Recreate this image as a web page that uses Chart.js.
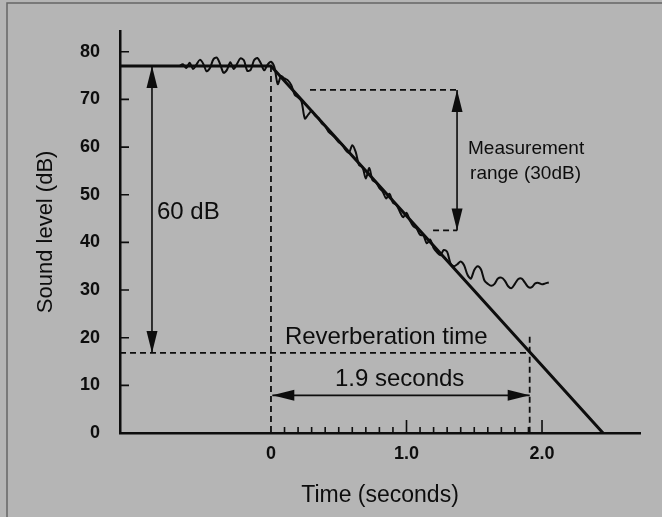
<!DOCTYPE html>
<html>
<head>
<meta charset="utf-8">
<script src="https://cdn.jsdelivr.net/npm/chart.js@4.4.1/dist/chart.umd.min.js"></script>
<style>
  html, body { margin: 0; padding: 0; background: #b5b5b5; }
  #wrap { width: 662px; height: 517px; }
</style>
</head>
<body>
<div id="wrap"><canvas id="decayChart" width="662" height="517"></canvas></div>
<script>
'use strict';

// measured sound level after the source stops (seconds, dB)
const traceTimes = [
  -0.675, -0.65, -0.625, -0.6, -0.575, -0.55, -0.525, -0.5, -0.475, -0.45,
  -0.425, -0.4, -0.375, -0.35, -0.325, -0.3, -0.275, -0.25, -0.225, -0.2,
  -0.175, -0.15, -0.125, -0.1, -0.075, -0.05, -0.025, 0,
  0.025, 0.05, 0.075, 0.1, 0.125, 0.15, 0.175, 0.2, 0.225, 0.25,
  0.275, 0.3, 0.325, 0.35, 0.375, 0.4, 0.425, 0.45, 0.475, 0.5,
  0.525, 0.55, 0.575, 0.6, 0.625, 0.65, 0.675, 0.7, 0.725, 0.75,
  0.775, 0.8, 0.825, 0.85, 0.875, 0.9, 0.925, 0.95, 0.975, 1.0,
  1.025, 1.05, 1.075, 1.1, 1.125, 1.15, 1.175, 1.2, 1.225, 1.25,
  1.275, 1.3, 1.325, 1.35, 1.375, 1.4, 1.425, 1.45, 1.475, 1.5,
  1.525, 1.55, 1.575, 1.6, 1.625, 1.65, 1.675, 1.7, 1.725, 1.75,
  1.775, 1.8, 1.825, 1.85, 1.875, 1.9, 1.925, 1.95, 1.975, 2.0,
  2.025, 2.05
];
const traceLevels = [
  77.0, 77.4, 76.6, 77.7, 76.4, 77.3, 78.3, 77.5, 75.9, 76.6,
  78.4, 78.8, 77.4, 75.6, 76.2, 77.8, 76.4, 77.5, 78.6, 78.2,
  76.0, 76.2, 78.2, 78.7, 77.6, 76.1, 77.3, 77.9,
  76.8, 73.2, 74.9, 74.4, 74.0, 73.0, 71.0, 70.4, 69.6, 66.0,
  66.8, 67.6, 66.6, 66.1, 65.0, 64.4, 63.2, 62.6, 61.9, 61.0,
  60.6, 59.4, 58.8, 60.4, 59.0, 56.2, 55.8, 53.4, 55.6, 53.0,
  52.6, 51.4, 50.6, 49.2, 50.2, 48.3, 47.9, 46.5, 45.3, 46.2,
  44.6, 43.4, 42.9, 41.6, 41.4, 39.8, 40.6, 38.8, 37.9, 37.3,
  38.4, 38.0, 35.6, 35.0, 35.4, 36.0, 35.2, 33.2, 32.4, 34.2,
  35.0, 34.3, 32.0, 31.3, 30.9, 31.3, 32.4, 32.6, 32.0, 30.8,
  30.4, 31.3, 32.3, 32.4, 31.5, 30.6, 30.6, 31.4, 31.5, 31.2,
  31.4, 31.6
];

// straight-line fit of the decay
const fitTimes = [-1.114, 0, 2.45];
const fitLevels = [77, 77, 0];

// axes
const xMin = -1.114, xMax = 2.723;
const yMin = 0, yMax = 84.4;
const xLabelTicks = [0, 1, 2];
const xMinorTicks = [0.1, 0.2, 0.3, 0.4, 0.5, 0.6, 0.7, 0.8, 0.9, 1.0,
  1.1, 1.2, 1.3, 1.4, 1.5, 1.6, 1.7, 1.8, 1.9, 2.0];
const xMajorTicks = [1.0, 2.0];
const yTicks = [0, 10, 20, 30, 40, 50, 60, 70, 80];

// dashed construction lines, [[t, dB], [t, dB]]
const guideSegments = [
  [[0, 77], [0, 0]],
  [[xMin, 16.8], [1.909, 16.8]],
  [[1.909, 20.2], [1.909, 0]],
  [[0.288, 72], [1.373, 72]],
  [[1.196, 42.5], [1.373, 42.5]]
];

// double-headed arrows, [[t, dB], [t, dB]]
const arrowSegments = [
  [[-0.878, 77], [-0.878, 16.8]],
  [[1.373, 72], [1.373, 42.5]],
  [[0.01, 7.9], [1.909, 7.9]]
];

// annotation texts: [text, t, dB] (left edge, baseline)
const noteTexts = [
  ['60 dB', -0.841, 45.0],
  ['Reverberation time', 0.103, 18.75],
  ['1.9 seconds', 0.472, 9.8],
  ['Measurement', 1.454, 58.5],
  ['range (30dB)', 1.469, 53.3]
];
const noteSizes = [24, 24, 24, 19, 19];

const INK = '#0d0d0d';
const FONT = '"Liberation Sans", Arial, Helvetica, sans-serif';

const toPoints = (xs, ys) => xs.map((x, i) => ({ x, y: ys[i] }));

const guideSets = guideSegments.map(seg => ({
  data: seg.map(p => ({ x: p[0], y: p[1] })),
  borderColor: INK, borderWidth: 1.8, borderDash: [6, 4],
  pointRadius: 0, tension: 0
}));

const paperPlugin = {
  id: 'paper',
  beforeDraw(chart) {
    const { ctx, width, height } = chart;
    ctx.save();
    ctx.fillStyle = '#b5b5b5';
    ctx.fillRect(0, 0, width, height);
    ctx.strokeStyle = '#666';
    ctx.lineWidth = 1.5;
    ctx.beginPath();
    ctx.moveTo(7, height); ctx.lineTo(7, 3); ctx.lineTo(width, 3);
    ctx.stroke();
    ctx.restore();
  }
};

const marksPlugin = {
  id: 'marks',
  afterDraw(chart) {
    const { ctx, scales: { x, y }, chartArea } = chart;
    ctx.save();
    ctx.strokeStyle = INK;
    ctx.fillStyle = INK;

    // inward tick marks
    ctx.lineWidth = 1.6;
    ctx.beginPath();
    yTicks.filter(v => v > 0).forEach(v => {
      const py = y.getPixelForValue(v);
      ctx.moveTo(chartArea.left, py); ctx.lineTo(chartArea.left + 9, py);
    });
    xMinorTicks.forEach(v => {
      const px = x.getPixelForValue(v);
      const len = xMajorTicks.some(m => Math.abs(m - v) < 1e-6) ? 13 : 6;
      ctx.moveTo(px, chartArea.bottom); ctx.lineTo(px, chartArea.bottom - len);
    });
    ctx.stroke();

    // arrows
    arrowSegments.forEach(seg => {
      const a = { x: x.getPixelForValue(seg[0][0]), y: y.getPixelForValue(seg[0][1]) };
      const b = { x: x.getPixelForValue(seg[1][0]), y: y.getPixelForValue(seg[1][1]) };
      ctx.lineWidth = 1.6;
      ctx.beginPath(); ctx.moveTo(a.x, a.y); ctx.lineTo(b.x, b.y); ctx.stroke();
      [[a, b], [b, a]].forEach(([tip, tail]) => {
        const ang = Math.atan2(tail.y - tip.y, tail.x - tip.x);
        const L = 22, W = 5.5;
        const bx = tip.x + Math.cos(ang) * L, by = tip.y + Math.sin(ang) * L;
        ctx.beginPath();
        ctx.moveTo(tip.x, tip.y);
        ctx.lineTo(bx - Math.sin(ang) * W, by + Math.cos(ang) * W);
        ctx.lineTo(bx + Math.sin(ang) * W, by - Math.cos(ang) * W);
        ctx.closePath();
        ctx.fill();
      });
    });

    // texts
    ctx.textAlign = 'left';
    ctx.textBaseline = 'alphabetic';
    noteTexts.forEach((n, i) => {
      ctx.font = noteSizes[i] + 'px ' + FONT;
      ctx.fillText(n[0], x.getPixelForValue(n[1]), y.getPixelForValue(n[2]));
    });
    ctx.restore();
  }
};

new Chart(document.getElementById('decayChart'), {
  type: 'line',
  data: {
    datasets: [
      {
        data: toPoints(traceTimes, traceLevels),
        borderColor: INK, borderWidth: 2, pointRadius: 0, tension: 0.3
      },
      {
        data: toPoints(fitTimes, fitLevels),
        borderColor: INK, borderWidth: 3, pointRadius: 0, tension: 0
      },
      ...guideSets
    ]
  },
  options: {
    responsive: false,
    animation: false,
    layout: { padding: { top: 28, right: 22, bottom: 0, left: 0 } },
    plugins: { legend: { display: false }, tooltip: { enabled: false } },
    scales: {
      x: {
        type: 'linear', min: xMin, max: xMax,
        afterBuildTicks: s => { s.ticks = xLabelTicks.map(v => ({ value: v })); },
        afterFit: s => { s.height = 84; },
        grid: { display: false, drawTicks: false },
        border: { display: true, color: INK, width: 2.5 },
        ticks: {
          padding: 10, color: INK,
          font: { family: FONT, size: 18, weight: 'bold' },
          callback: v => (v === 0 ? '0' : v.toFixed(1))
        },
        title: {
          display: true, text: 'Time (seconds)', color: INK,
          font: { family: FONT, size: 23 }, padding: { top: 0, bottom: 8 }
        }
      },
      y: {
        type: 'linear', min: yMin, max: yMax,
        afterBuildTicks: s => { s.ticks = yTicks.map(v => ({ value: v })); },
        afterFit: s => { s.width = 120; },
        grid: { display: false, drawTicks: false },
        border: { display: true, color: INK, width: 2.5 },
        ticks: {
          padding: 20, color: INK,
          font: { family: FONT, size: 18, weight: 'bold' }
        },
        title: {
          display: true, text: 'Sound level (dB)', color: INK,
          font: { family: FONT, size: 22 }, padding: { top: 33, bottom: 0 }
        }
      }
    }
  },
  plugins: [paperPlugin, marksPlugin]
});
</script>
</body>
</html>
